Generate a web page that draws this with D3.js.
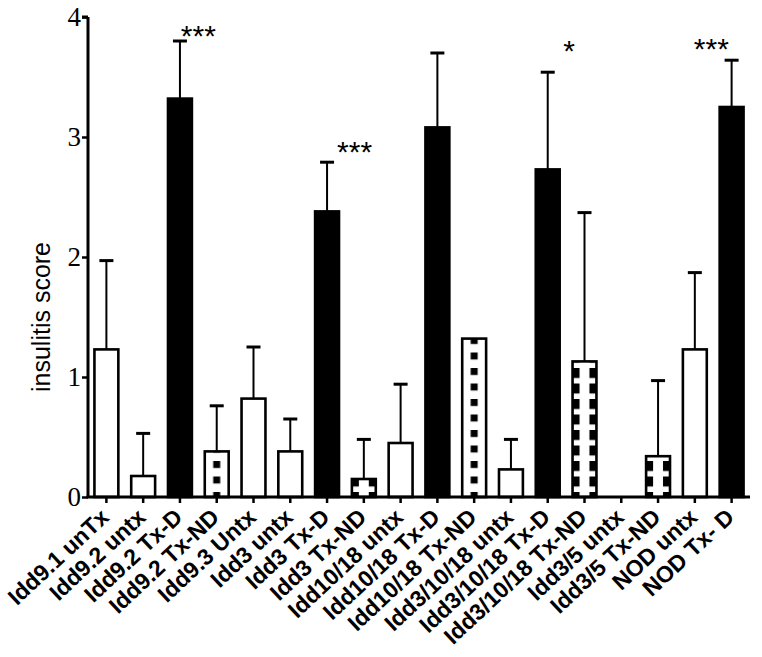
<!DOCTYPE html>
<html>
<head>
<meta charset="utf-8">
<script src="https://cdn.jsdelivr.net/npm/d3@7"></script>
<style>
  html, body { margin: 0; padding: 0; background: #fff; }
  svg { display: block; }
</style>
</head>
<body>
<svg id="chart" width="762" height="657"></svg>
<script>
// ---- data ----
const categories = [
  "Idd9.1 unTx", "Idd9.2 untx", "Idd9.2 Tx-D", "Idd9.2 Tx-ND", "Idd9.3 Untx",
  "Idd3 untx", "Idd3 Tx-D", "Idd3 Tx-ND", "Idd10/18 untx", "Idd10/18 Tx-D",
  "Idd10/18 Tx-ND", "Idd3/10/18 untx", "Idd3/10/18 Tx-D", "Idd3/10/18 Tx-ND",
  "Idd3/5 untx", "Idd3/5 Tx-ND", "NOD untx", "NOD Tx- D"
];
const means = [1.23, 0.175, 3.32, 0.38, 0.82, 0.38, 2.38, 0.15, 0.45, 3.08,
               1.32, 0.23, 2.73, 1.13, 0, 0.34, 1.23, 3.25];
const errors = [0.74, 0.355, 0.48, 0.38, 0.43, 0.27, 0.41, 0.33, 0.49, 0.62,
                null, 0.25, 0.81, 1.24, null, 0.63, 0.64, 0.39];
const fills = ["open", "open", "solid", "centerdots", "open", "open", "solid", "sidedots",
               "open", "solid", "centerdots", "open", "solid", "sidedots", "open",
               "sidedots", "open", "solid"];
const yTicks = [0, 1, 2, 3, 4];
const yLabel = "insulitis score";
// significance marks: category, label, horizontal shift (band steps), level (score units)
const sigCategories = ["Idd9.2 Tx-D", "Idd3 Tx-D", "Idd3/10/18 Tx-D", "NOD Tx- D"];
const sigLabels = ["***", "***", "*", "***"];
const sigShift = [0.5, 0.75, 0.58, -0.55];
const sigLevel = [3.90, 2.93, 3.775, 3.79];

// ---- layout ----
const svg = d3.select("#chart");
const x = d3.scaleBand().domain(categories).range([88, 750]).padding(0);
const y = d3.scaleLinear().domain([0, 4]).range([497, 17]);
const step = x.step();
const barW = step * 0.65;
const cx = c => x(c) + step / 2;

const defs = svg.append("defs");
const period = 15.5;
const phase = y(0) - 5;

categories.forEach((c, i) => {
  const f = fills[i];
  if (f !== "centerdots" && f !== "sidedots") return;
  const x0 = cx(c) - barW / 2;
  const p = defs.append("pattern")
    .attr("id", "pat" + i)
    .attr("patternUnits", "userSpaceOnUse")
    .attr("x", x0).attr("y", phase)
    .attr("width", barW).attr("height", period);
  p.append("rect").attr("width", barW).attr("height", period).attr("fill", "#fff");
  if (f === "centerdots") {
    p.append("rect").attr("x", barW / 2 - 3.5).attr("y", 0).attr("width", 7).attr("height", 7).attr("fill", "#000");
  } else {
    p.append("rect").attr("x", 0).attr("y", 0).attr("width", 7).attr("height", 10).attr("fill", "#000");
    p.append("rect").attr("x", barW - 7).attr("y", 0).attr("width", 7).attr("height", 10).attr("fill", "#000");
  }
});

const fillFor = i => fills[i] === "solid" ? "#000" :
  (fills[i] === "open" ? "#fff" : "url(#pat" + i + ")");

// error bars (upper only)
const eg = svg.append("g");
categories.forEach((c, i) => {
  if (errors[i] == null) return;
  const top = y(means[i] + errors[i]);
  eg.append("line").attr("x1", cx(c)).attr("x2", cx(c))
    .attr("y1", y(means[i])).attr("y2", top)
    .attr("stroke", "#000").attr("stroke-width", 2);
  eg.append("line").attr("x1", cx(c) - 7).attr("x2", cx(c) + 7)
    .attr("y1", top).attr("y2", top)
    .attr("stroke", "#000").attr("stroke-width", 3);
});

// bars
svg.append("g").selectAll("rect")
  .data(categories.map((c, i) => ({ c, i, v: means[i] })).filter(d => d.v > 0))
  .join("rect")
  .attr("x", d => cx(d.c) - barW / 2)
  .attr("y", d => y(d.v))
  .attr("width", barW)
  .attr("height", d => y(0) - y(d.v))
  .attr("fill", d => fillFor(d.i))
  .attr("stroke", "#000")
  .attr("stroke-width", 2.6);

// y axis
const yAxis = svg.append("g").attr("transform", "translate(88,0)")
  .call(d3.axisLeft(y).tickValues(yTicks).tickFormat(d3.format("d")).tickSize(6).tickPadding(1));
yAxis.select(".domain").attr("stroke-width", 3).attr("d", `M0,${y(4)}H-6M0,${y(4)}V${y(0)}`);
yAxis.selectAll(".tick line").attr("stroke-width", 2.5);
yAxis.selectAll(".tick text")
  .attr("font-family", "'Liberation Serif', 'Times New Roman', serif")
  .attr("font-size", 27).attr("fill", "#000");

// x axis
const xAxis = svg.append("g").attr("transform", `translate(0,${y(0)})`)
  .call(d3.axisBottom(x).tickSize(6).tickFormat(""));
xAxis.select(".domain").attr("stroke-width", 3).attr("d", `M86.5,0H750`);
xAxis.selectAll(".tick line").attr("stroke-width", 2.5);

svg.append("g").selectAll("text")
  .data(categories).join("text")
  .attr("transform", c => `translate(${cx(c) + 4},${y(0) + 22}) rotate(-43)`)
  .attr("text-anchor", "end")
  .attr("font-family", "'Liberation Sans', Arial, sans-serif")
  .attr("font-weight", "bold")
  .attr("font-size", 23)
  .attr("fill", "#000")
  .text(c => c);

// y label
svg.append("text")
  .attr("transform", `translate(50,${(y(0) + y(4)) / 2 + 60}) rotate(-90)`)
  .attr("text-anchor", "middle")
  .attr("font-family", "'Liberation Sans', Arial, sans-serif")
  .attr("font-size", 25)
  .attr("fill", "#000")
  .text(yLabel);

// significance stars
sigCategories.forEach((c, k) => {
  svg.append("text")
    .attr("x", cx(c) + sigShift[k] * step)
    .attr("y", y(sigLevel[k]) + 17)
    .attr("text-anchor", "middle")
    .attr("font-family", "'Liberation Sans', Arial, sans-serif")
    .attr("font-size", 30)
    .attr("fill", "#000")
    .text(sigLabels[k]);
});
</script>
</body>
</html>
